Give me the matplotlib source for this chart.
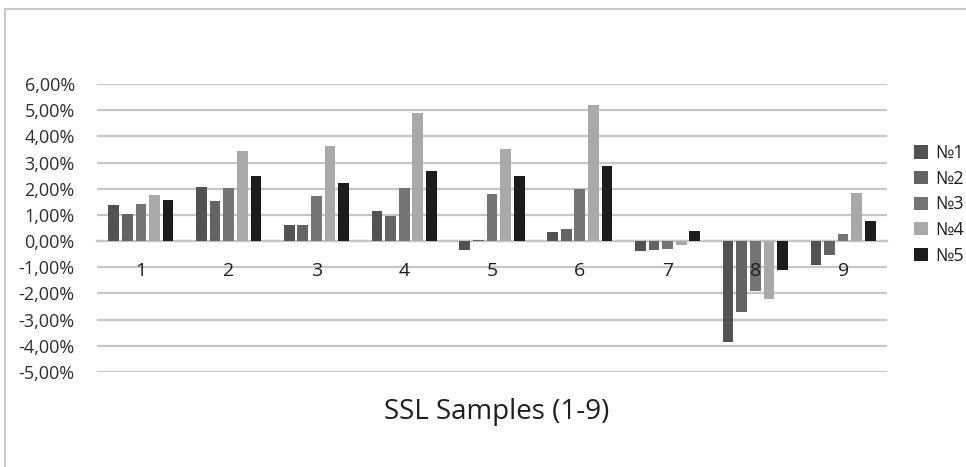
import matplotlib
matplotlib.use("Agg")
import matplotlib.pyplot as plt
import numpy as np
from matplotlib.patches import Rectangle, Patch

plt.rcParams['font.family'] = ['Open Sans', 'DejaVu Sans']

categories = ["1", "2", "3", "4", "5", "6", "7", "8", "9"]
series_names = ["№1", "№2", "№3", "№4", "№5"]
s1 = [1.37, 2.07, 0.60, 1.14, -0.33, 0.34, -0.37, -3.87, -0.91]
s2 = [1.05, 1.53, 0.60, 0.97, 0.05, 0.47, -0.33, -2.72, -0.55]
s3 = [1.42, 2.03, 1.71, 2.03, 1.79, 1.99, -0.31, -1.90, 0.27]
s4 = [1.75, 3.44, 3.63, 4.90, 3.52, 5.20, -0.14, -2.22, 1.84]
s5 = [1.58, 2.48, 2.20, 2.69, 2.49, 2.86, 0.40, -1.11, 0.75]
series = [s1, s2, s3, s4, s5]
colors = ["#525252", "#646464", "#747474", "#a9a9a9", "#1c1c1c"]
yticks = [6, 5, 4, 3, 2, 1, 0, -1, -2, -3, -4, -5]
ytick_labels = ["6,00%", "5,00%", "4,00%", "3,00%", "2,00%", "1,00%", "0,00%",
                "-1,00%", "-2,00%", "-3,00%", "-4,00%", "-5,00%"]
xlabel = "SSL Samples (1-9)"

W, H = 966, 467
fig = plt.figure(figsize=(W / 100, H / 100), dpi=100)
fig.patch.set_facecolor("white")

# chart border
fig.patches.append(Rectangle((5 / W, -0.05), 1.1, 1 - 9 / H + 0.05, transform=fig.transFigure,
                             fill=False, edgecolor="#c8c8c8", linewidth=1.5))

ax = fig.add_axes([97 / W, 1 - 372 / H, 790 / W, (372 - 84) / H])
x = np.arange(len(categories))
pitch = 0.155
width = 0.122
for i, (vals, c) in enumerate(zip(series, colors)):
    ax.bar(x + (i - 2) * pitch, vals, width=width, color=c, zorder=3, label=series_names[i])

ax.set_xlim(-0.5, len(categories) - 0.5)
ax.set_ylim(-5, 6)
ax.set_yticks(yticks)
ax.set_yticklabels(ytick_labels)
ax.yaxis.grid(True, color="#c6c6c6", linewidth=1.6, zorder=0)
ax.tick_params(axis="y", length=0, pad=16, labelsize=13, labelcolor="#2e2e2e")
for s in ["top", "right", "left"]:
    ax.spines[s].set_visible(False)
ax.spines["bottom"].set_position(("data", 0))
ax.spines["bottom"].set_color("#c6c6c6")
ax.spines["bottom"].set_linewidth(1.6)
ax.set_xticks(x)
ax.set_xticklabels(categories)
ax.tick_params(axis="x", length=0, pad=15, labelsize=14, labelcolor="#1e1e1e")
ax.xaxis.set_zorder(5)

fig.text(497 / W, 1 - 412 / H, xlabel, ha="center", va="center", fontsize=20, color="#1e1e1e")

handles = [Patch(facecolor=c, edgecolor="none") for c in colors]
leg = fig.legend(handles, series_names, loc="upper left", bbox_to_anchor=(898 / W, 1 - 128 / H),
                 frameon=False, fontsize=13, handlelength=0.75, handleheight=0.75,
                 handletextpad=0.4, labelspacing=0.42, labelcolor="#1e1e1e")

fig.savefig("out.png", dpi=100)
